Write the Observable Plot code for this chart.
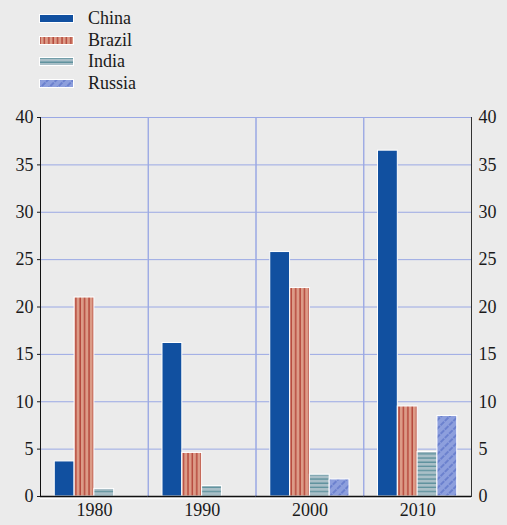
<!DOCTYPE html>
<html>
<head>
<meta charset="utf-8">
<script src="https://cdn.jsdelivr.net/npm/d3@7"></script>
<script src="https://cdn.jsdelivr.net/npm/@observablehq/plot@0.6"></script>
<style>
  body { margin: 0; background: #ebebeb; font-family: "Liberation Serif", "Times New Roman", serif; }
  #legend { height: 100px; padding: 8px 0 0 39px; box-sizing: border-box; }
  .row { display: flex; align-items: center; height: 21.5px; font-size: 18px; color: #1a1a1a; }
  .row svg { margin-right: 14px; }
  #chart svg, #chart svg text { font-family: "Liberation Serif", "Times New Roman", serif !important; }
</style>
</head>
<body>
<div id="legend"></div>
<div id="chart"></div>
<script>
const years = ["1980", "1990", "2000", "2010"];
const countries = ["China", "Brazil", "India", "Russia"];
const china = [3.7, 16.2, 25.8, 36.5];
const brazil = [21.0, 4.6, 22.0, 9.5];
const india = [0.8, 1.1, 2.3, 4.7];
const russia = [0, 0, 1.8, 8.5];
const yTicks = [0, 5, 10, 15, 20, 25, 30, 35, 40];

const series = [china, brazil, india, russia];
const fills = ["#1150a0", "url(#pBrazil)", "url(#pIndia)", "url(#pRussia)"];
const gridColor = "#9aa8e4";

let data = [];
years.forEach((y, i) => {
  countries.forEach((c, j) => {
    if (series[j][i] > 0) data.push({year: y, country: c, value: series[j][i]});
  });
});

let chart = Plot.plot({
  width: 507,
  height: 425,
  marginTop: 17,
  marginBottom: 29,
  marginLeft: 40,
  marginRight: 36,
  style: {
    background: "transparent",
    fontSize: "18px",
    color: "#1a1a1a",
    overflow: "visible"
  },
  fx: {domain: years, padding: 0, round: false, label: null},
  x: {domain: countries, paddingInner: 0, paddingOuter: 0.72, round: false, axis: null},
  y: {domain: [0, 40], label: null},
  color: {domain: countries, range: fills},
  marks: [
    Plot.frame({stroke: gridColor}),
    Plot.gridY(yTicks, {stroke: gridColor, strokeOpacity: 1}),
    Plot.barY(data, {fx: "year", x: "country", y: "value", fill: "country", stroke: "white", strokeWidth: 1, insetLeft: 0, insetRight: 0}),
    Plot.ruleY([0], {stroke: "white", strokeWidth: 1.5, dy: 2}),
    Plot.ruleY([0], {stroke: "#111", strokeWidth: 1.5}),
    Plot.frame({anchor: "left", facetAnchor: "left", stroke: "#111"}),
    Plot.frame({anchor: "right", facetAnchor: "right", stroke: "#333"}),
    Plot.axisY(yTicks, {anchor: "left", tickSize: 3, tickPadding: 4, label: null}),
    Plot.axisY(yTicks, {anchor: "right", tickSize: 0, tickPadding: 7, label: null}),
    Plot.axisFx({anchor: "bottom", tickSize: 0, tickPadding: 7, label: null})
  ]
});

// hatch patterns for the bars and legend swatches
const defs = d3.select(chart).insert("defs", ":first-child");
const pb = defs.append("pattern").attr("id", "pBrazil").attr("patternUnits", "userSpaceOnUse").attr("width", 4.4).attr("height", 10);
pb.append("rect").attr("width", 4.4).attr("height", 10).attr("fill", "#dc9b87");
pb.append("line").attr("x1", 1).attr("x2", 1).attr("y1", 0).attr("y2", 10).attr("stroke", "#ad352b").attr("stroke-width", 1.2);
const pi = defs.append("pattern").attr("id", "pIndia").attr("patternUnits", "userSpaceOnUse").attr("width", 10).attr("height", 4.2);
pi.append("rect").attr("width", 10).attr("height", 4.2).attr("fill", "#a9bfc7");
pi.append("line").attr("x1", 0).attr("x2", 10).attr("y1", 1).attr("y2", 1).attr("stroke", "#548b97").attr("stroke-width", 1.2);
const pr = defs.append("pattern").attr("id", "pRussia").attr("patternUnits", "userSpaceOnUse").attr("width", 6).attr("height", 6).attr("patternTransform", "rotate(45)");
pr.append("rect").attr("width", 6).attr("height", 6).attr("fill", "#8d9fdd");
pr.append("line").attr("x1", 1).attr("x2", 1).attr("y1", 0).attr("y2", 6).attr("stroke", "#4a63c0").attr("stroke-width", 1).attr("stroke-dasharray", "3,1");

d3.select("#chart").append(() => chart);

// legend
const legend = d3.select("#legend");
countries.forEach((c, j) => {
  const row = legend.append("div").attr("class", "row");
  const sw = row.append("svg").attr("width", 35).attr("height", 9);
  sw.append("rect").attr("x", 0.5).attr("y", 0.5).attr("width", 34).attr("height", 8)
    .attr("fill", fills[j]).attr("stroke", "white").attr("stroke-width", 1);
  row.append("span").text(c);
});
</script>
</body>
</html>
